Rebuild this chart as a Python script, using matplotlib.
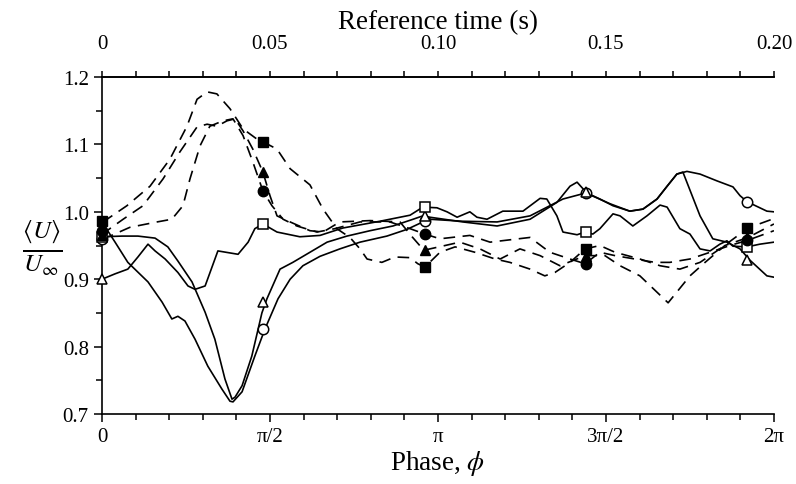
import numpy as np
import matplotlib
matplotlib.use("Agg")
import matplotlib.pyplot as plt

plt.rcParams['font.family'] = ['Liberation Serif', 'DejaVu Serif']
plt.rcParams['mathtext.fontset'] = 'stix'

# phase in units of pi, velocity ratio <U>/U_inf
# solid lines (open markers)
sc_x = [0, 0.039, 0.077, 0.137, 0.179, 0.208, 0.226, 0.247, 0.277, 0.315, 0.357, 0.381, 0.390, 0.417,
        0.455, 0.485, 0.524, 0.560, 0.598, 0.649, 0.708, 0.768, 0.848, 0.908, 0.955, 0.976, 1.074, 1.176,
        1.274, 1.372, 1.440, 1.512, 1.571, 1.610, 1.652, 1.682, 1.711, 1.741, 1.780, 1.830, 1.878, 1.899,
        1.920, 1.979, 2.0]
sc_y = [0.985, 0.955, 0.925, 0.896, 0.866, 0.841, 0.845, 0.838, 0.811, 0.771, 0.737, 0.719, 0.718, 0.733,
        0.786, 0.826, 0.871, 0.900, 0.920, 0.934, 0.945, 0.955, 0.964, 0.974, 0.985, 0.989, 0.986, 0.985,
        0.994, 1.019, 1.028, 1.012, 1.001, 1.004, 1.019, 1.038, 1.056, 1.060, 1.056, 1.046, 1.037, 1.024,
        1.015, 1.001, 1.000]

st_x = [0, 0.060, 0.107, 0.158, 0.196, 0.226, 0.268, 0.307, 0.336, 0.366, 0.387, 0.396, 0.417, 0.446,
        0.476, 0.491, 0.530, 0.568, 0.619, 0.670, 0.729, 0.798, 0.866, 0.926, 0.955, 0.976, 1.074, 1.176,
        1.274, 1.354, 1.393, 1.414, 1.443, 1.482, 1.521, 1.571, 1.610, 1.652, 1.682, 1.711, 1.729, 1.780,
        1.818, 1.860, 1.899, 1.929, 1.979, 2.0]
st_y = [0.963, 0.964, 0.964, 0.961, 0.948, 0.927, 0.896, 0.851, 0.811, 0.752, 0.722, 0.725, 0.742, 0.786,
        0.850, 0.871, 0.915, 0.925, 0.940, 0.955, 0.964, 0.972, 0.979, 0.989, 0.994, 0.992, 0.985, 0.979,
        0.989, 1.014, 1.038, 1.044, 1.028, 1.019, 1.009, 1.001, 1.004, 1.019, 1.038, 1.056, 1.059, 0.994,
        0.960, 0.955, 0.945, 0.928, 0.905, 0.903]

ss_x = [0, 0.039, 0.077, 0.107, 0.137, 0.158, 0.188, 0.226, 0.256, 0.277, 0.307, 0.345, 0.405, 0.435,
        0.455, 0.479, 0.521, 0.589, 0.649, 0.717, 0.827, 0.917, 0.955, 0.997, 1.027, 1.057, 1.095, 1.116,
        1.146, 1.193, 1.253, 1.304, 1.324, 1.354, 1.372, 1.414, 1.438, 1.461, 1.482, 1.521, 1.542, 1.580,
        1.622, 1.661, 1.682, 1.720, 1.750, 1.780, 1.810, 1.839, 1.860, 1.878, 1.920, 1.958, 2.0]
ss_y = [0.900, 0.908, 0.915, 0.933, 0.952, 0.942, 0.930, 0.910, 0.890, 0.885, 0.890, 0.942, 0.937, 0.955,
        0.975, 0.982, 0.970, 0.963, 0.965, 0.976, 0.986, 0.995, 1.007, 1.006, 1.000, 0.992, 1.000, 0.992,
        0.989, 1.001, 1.001, 1.020, 1.019, 0.994, 0.970, 0.966, 0.970, 0.967, 0.975, 0.997, 0.994, 0.979,
        0.994, 1.010, 1.007, 0.975, 0.967, 0.945, 0.942, 0.952, 0.957, 0.949, 0.948, 0.952, 0.955]

# dashed lines (filled markers)
ds_x = [0, 0.015, 0.074, 0.143, 0.202, 0.253, 0.283, 0.313, 0.342, 0.381, 0.420, 0.461, 0.479, 0.521,
        0.560, 0.619, 0.658, 0.699, 0.738, 0.768, 0.789, 0.833, 0.872, 0.917, 0.940, 0.961, 1.006, 1.051,
        1.110, 1.170, 1.214, 1.274, 1.318, 1.348, 1.393, 1.438, 1.482, 1.527, 1.601, 1.661, 1.720, 1.780,
        1.839, 1.923, 2.0]
ds_y = [0.987, 0.989, 1.009, 1.038, 1.078, 1.127, 1.167, 1.178, 1.175, 1.153, 1.123, 1.108, 1.104, 1.093,
        1.064, 1.040, 1.004, 0.975, 0.962, 0.945, 0.930, 0.925, 0.933, 0.932, 0.923, 0.918, 0.940, 0.948,
        0.940, 0.930, 0.925, 0.915, 0.905, 0.910, 0.925, 0.945, 0.950, 0.940, 0.930, 0.920, 0.915, 0.925,
        0.945, 0.976, 0.990]

dt_x = [0, 0.015, 0.063, 0.122, 0.182, 0.232, 0.283, 0.313, 0.342, 0.372, 0.396, 0.420, 0.449, 0.479,
        0.500, 0.521, 0.560, 0.619, 0.658, 0.708, 0.798, 0.887, 0.923, 0.958, 1.021, 1.065, 1.125, 1.185,
        1.244, 1.304, 1.363, 1.438, 1.497, 1.542, 1.601, 1.685, 1.750, 1.795, 1.854, 1.923, 2.0]
dt_y = [0.965, 0.972, 0.989, 1.009, 1.049, 1.089, 1.126, 1.130, 1.127, 1.135, 1.138, 1.120, 1.093, 1.059,
        1.024, 0.994, 0.985, 0.972, 0.970, 0.985, 0.987, 0.985, 0.963, 0.943, 0.950, 0.955, 0.945, 0.930,
        0.945, 0.935, 0.920, 0.935, 0.935, 0.920, 0.905, 0.865, 0.905, 0.925, 0.950, 0.962, 0.982]

dc_x = [0, 0.024, 0.083, 0.164, 0.208, 0.241, 0.262, 0.292, 0.321, 0.360, 0.390, 0.420, 0.449, 0.479,
        0.506, 0.539, 0.580, 0.640, 0.693, 0.768, 0.857, 0.917, 0.961, 1.006, 1.095, 1.155, 1.274, 1.333,
        1.393, 1.438, 1.482, 1.527, 1.586, 1.646, 1.690, 1.750, 1.810, 1.869, 1.923, 2.0]
dc_y = [0.960, 0.964, 0.977, 0.985, 0.989, 1.009, 1.049, 1.098, 1.127, 1.135, 1.138, 1.113, 1.074, 1.031,
        1.009, 0.989, 0.979, 0.970, 0.975, 0.985, 0.985, 0.975, 0.967, 0.960, 0.965, 0.955, 0.962, 0.940,
        0.930, 0.923, 0.940, 0.935, 0.930, 0.925, 0.925, 0.930, 0.940, 0.950, 0.958, 0.972]

# marker positions (phase / pi) and values
mk_x = [0, 0.48, 0.96, 1.44, 1.92]
open_circle = [0.960, 0.826, 0.986, 1.028, 1.015]
open_triangle = [0.900, 0.866, 0.994, 1.030, 0.928]
open_square = [0.963, 0.982, 1.007, 0.970, 0.948]
filled_circle = [0.972, 1.031, 0.967, 0.923, 0.958]
filled_triangle = [0.965, 1.059, 0.943, 0.935, 0.962]
filled_square = [0.987, 1.104, 0.918, 0.945, 0.976]

fig = plt.figure(figsize=(7.96, 4.85), dpi=100)
ax = fig.add_axes([0.1281, 0.1443, 0.8442, 0.6948])

pi = np.pi
for xs, ys in [(sc_x, sc_y), (st_x, st_y), (ss_x, ss_y)]:
    ax.plot(np.array(xs) * pi, ys, color='k', lw=1.2)
for xs, ys in [(ds_x, ds_y), (dt_x, dt_y), (dc_x, dc_y)]:
    ax.plot(np.array(xs) * pi, ys, color='k', lw=1.2, dashes=(7, 4.5))

mx = np.array(mk_x) * pi
for vals, m in [(open_circle, 'o'), (open_triangle, '^'), (open_square, 's')]:
    ax.plot(mx, vals, ls='none', marker=m, ms=7.5, mfc='white', mec='k', mew=1.1, zorder=5, clip_on=False)
for vals, m in [(filled_circle, 'o'), (filled_triangle, '^'), (filled_square, 's')]:
    ax.plot(mx, vals, ls='none', marker=m, ms=7.5, mfc='k', mec='k', zorder=6, clip_on=False)

ax.set_xlim(0, 2 * pi)
ax.set_ylim(0.7, 1.2)
ax.spines['right'].set_visible(False)
for s in ['left', 'top', 'bottom']:
    ax.spines[s].set_linewidth(1.2)
ax.set_xticks([0, pi / 2, pi, 3 * pi / 2, 2 * pi])
ax.set_xticklabels(['0', 'π/2', 'π', '3π/2', '2π'])
ax.set_xticks(np.arange(0, 21) * pi / 10, minor=True)
ax.set_yticks([0.7, 0.8, 0.9, 1.0, 1.1, 1.2])
ax.set_yticklabels(['0.7', '0.8', '0.9', '1.0', '1.1', '1.2'])
ax.set_yticks(np.arange(0.7, 1.2001, 0.05), minor=True)
ax.tick_params(which='both', direction='out', labelsize=15, width=1.1)
ax.tick_params(which='major', length=6)
ax.tick_params(which='minor', length=4.5)
ax.set_xlabel('Phase, $\\phi$', fontsize=19.5, labelpad=1)

top = ax.secondary_xaxis('top', functions=(lambda p: p / (2 * pi) * 0.2, lambda t: t / 0.2 * 2 * pi))
top.set_xticks([0, 0.05, 0.10, 0.15, 0.20])
top.set_xticklabels(['0', '0.05', '0.10', '0.15', '0.20'])
top.set_xticks(np.arange(0, 0.2001, 0.01), minor=True)
top.tick_params(which='both', direction='out', labelsize=15, width=1.1, pad=13.5)
top.tick_params(which='major', length=4)
top.tick_params(which='minor', length=4)
top.spines['top'].set_linewidth(1.2)
top.set_xlabel('Reference time (s)', fontsize=19.5, labelpad=4)

fig.text(0.053, 0.487, r'$\frac{\langle U\rangle}{U_\infty}$', fontsize=26, ha='center', va='center')

fig.savefig('out.png', dpi=100)
